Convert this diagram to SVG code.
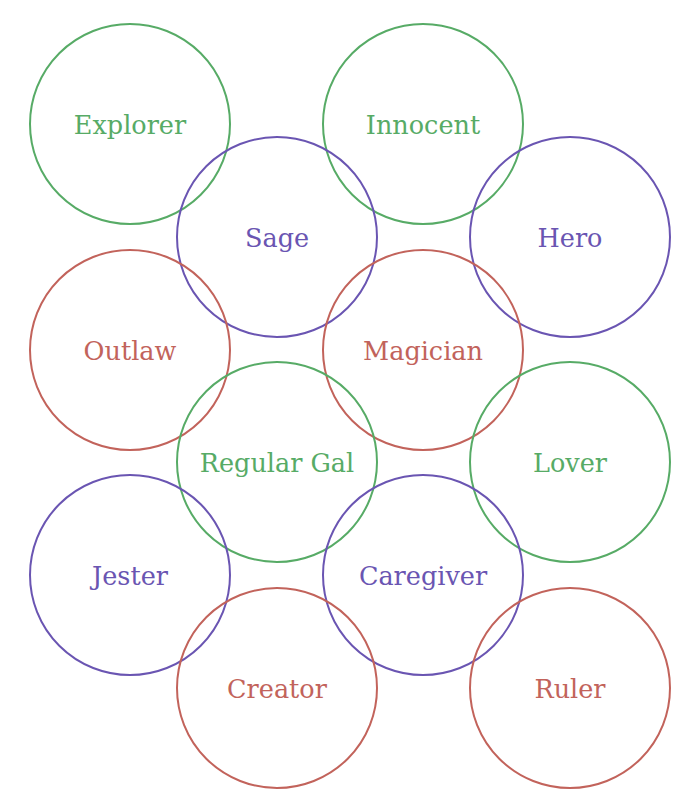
<svg xmlns="http://www.w3.org/2000/svg" width="700" height="812" viewBox="0 0 700 812">
<style>
circle{fill:none;stroke-width:2}
text{font-family:"DejaVu Serif","Liberation Serif",serif;font-size:25.5px;text-anchor:middle}
.g circle{stroke:#57ab66}.g text{fill:#57ab66}
.p circle{stroke:#6a55b2}.p text{fill:#6a55b2}
.r circle{stroke:#c2635b}.r text{fill:#c2635b}
</style>
<rect width="700" height="812" fill="#fff"/>
<g id="explorer" class="g"><circle cx="130" cy="124" r="100"/><text x="130" y="134">Explorer</text></g>
<g id="innocent" class="g"><circle cx="423" cy="124" r="100"/><text x="423" y="134">Innocent</text></g>
<g id="sage" class="p"><circle cx="277" cy="237" r="100"/><text x="277" y="247">Sage</text></g>
<g id="hero" class="p"><circle cx="570" cy="237" r="100"/><text x="570" y="247">Hero</text></g>
<g id="outlaw" class="r"><circle cx="130" cy="350" r="100"/><text x="130" y="360">Outlaw</text></g>
<g id="magician" class="r"><circle cx="423" cy="350" r="100"/><text x="423" y="360">Magician</text></g>
<g id="regular-gal" class="g"><circle cx="277" cy="462" r="100"/><text x="277" y="472">Regular Gal</text></g>
<g id="lover" class="g"><circle cx="570" cy="462" r="100"/><text x="570" y="472">Lover</text></g>
<g id="jester" class="p"><circle cx="130" cy="575" r="100"/><text x="130" y="585">Jester</text></g>
<g id="caregiver" class="p"><circle cx="423" cy="575" r="100"/><text x="423" y="585">Caregiver</text></g>
<g id="creator" class="r"><circle cx="277" cy="688" r="100"/><text x="277" y="698">Creator</text></g>
<g id="ruler" class="r"><circle cx="570" cy="688" r="100"/><text x="570" y="698">Ruler</text></g>
<g id="connectors"/>
</svg>
